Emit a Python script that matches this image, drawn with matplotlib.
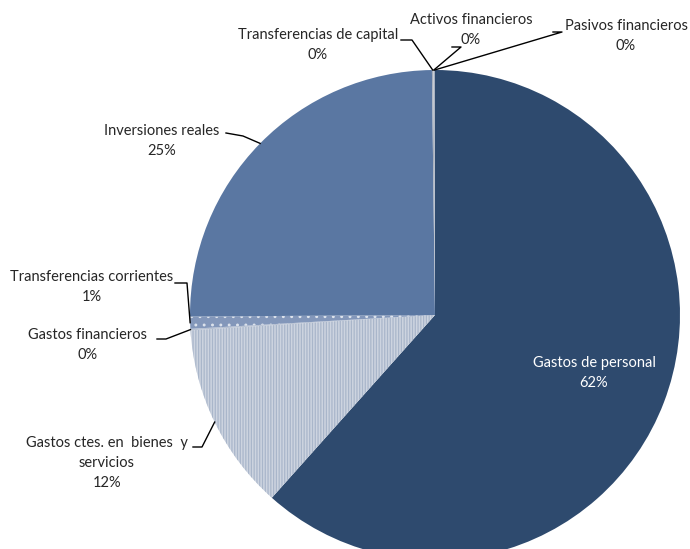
import matplotlib
matplotlib.use("Agg")
import matplotlib.pyplot as plt
import numpy as np

plt.rcParams['font.family'] = ['Lato', 'DejaVu Sans']
plt.rcParams['hatch.linewidth'] = 0.9

categories = ["Gastos de personal", "Gastos ctes. en  bienes  y\nservicios", "Gastos financieros",
              "Transferencias corrientes", "Inversiones reales", "Transferencias de capital",
              "Activos financieros", "Pasivos financieros"]
values = [61.6, 12.4, 0.1, 0.8, 24.9, 0.1, 0.05, 0.05]
colors = ["#2E4A6E", "#CDD4E0", "#B7C1D2", "#8397BA", "#5A77A2", "#A5ADBA", "#C3C8D1", "#8C99AE"]
hatches = [None, "||||||", None, "..", None, None, None, None]
hatch_colors = [None, "#A9B6CA", None, "#DDE3EC", None, None, None, None]

W, H = 690, 549
cx, cy, R = 435, 315, 245

fig = plt.figure(figsize=(W / 100, H / 100), dpi=100)
ax = fig.add_axes([0, 0, 1, 1])

wedges, _ = ax.pie(values, colors=colors, startangle=90, counterclock=False,
                   radius=1.0, center=(0, 0), wedgeprops=dict(linewidth=0))
for w, h, hc in zip(wedges, hatches, hatch_colors):
    if h:
        w.set_hatch(h)
        w.set_edgecolor(hc)
        w.set_linewidth(0)

ax.set_xlim((0 - cx) / R, (W - cx) / R)
ax.set_ylim((cy - H) / R, cy / R)
ax.set_aspect('equal')
ax.axis('off')


def px(x, y):
    return ((x - cx) / R, (cy - y) / R)


# label layout: (text center px, text color, leader start px, elbow px)
layout = {
    0: dict(pos=(594, 373), color="white", lead=None),
    1: dict(pos=(107, 463), color="#262626", lead=[(193, 447), (202, 447)]),
    2: dict(pos=(88, 345), color="#262626", lead=[(157, 339), (166, 339)]),
    3: dict(pos=(92, 287), color="#262626", lead=[(175, 283), (187, 283)]),
    4: dict(pos=(162, 141), color="#262626", lead=[(226, 133), (243, 136)]),
    5: dict(pos=(318, 45), color="#262626", lead=[(401, 40), (412, 40)]),
    6: dict(pos=(471, 30), color="#262626", lead=[(452, 47), (461, 47)]),
    7: dict(pos=(626, 36), color="#262626", lead=[(553, 32), (562, 32)]),
}

for i, w in enumerate(wedges):
    pct = f"{round(values[i]):.0f}%"
    L = layout[i]
    x, y = px(*L['pos'])
    ax.text(x, y, f"{categories[i]}\n{pct}", ha='center', va='center',
            fontsize=10.5, color=L['color'], linespacing=1.55)
    if L['lead']:
        ang = np.deg2rad((w.theta1 + w.theta2) / 2)
        ex, ey = np.cos(ang), np.sin(ang)
        pts = [px(*p) for p in L['lead']] + [(ex, ey)]
        ax.plot([p[0] for p in pts], [p[1] for p in pts], color='black', lw=1.0)

fig.savefig("out.png", dpi=100)
